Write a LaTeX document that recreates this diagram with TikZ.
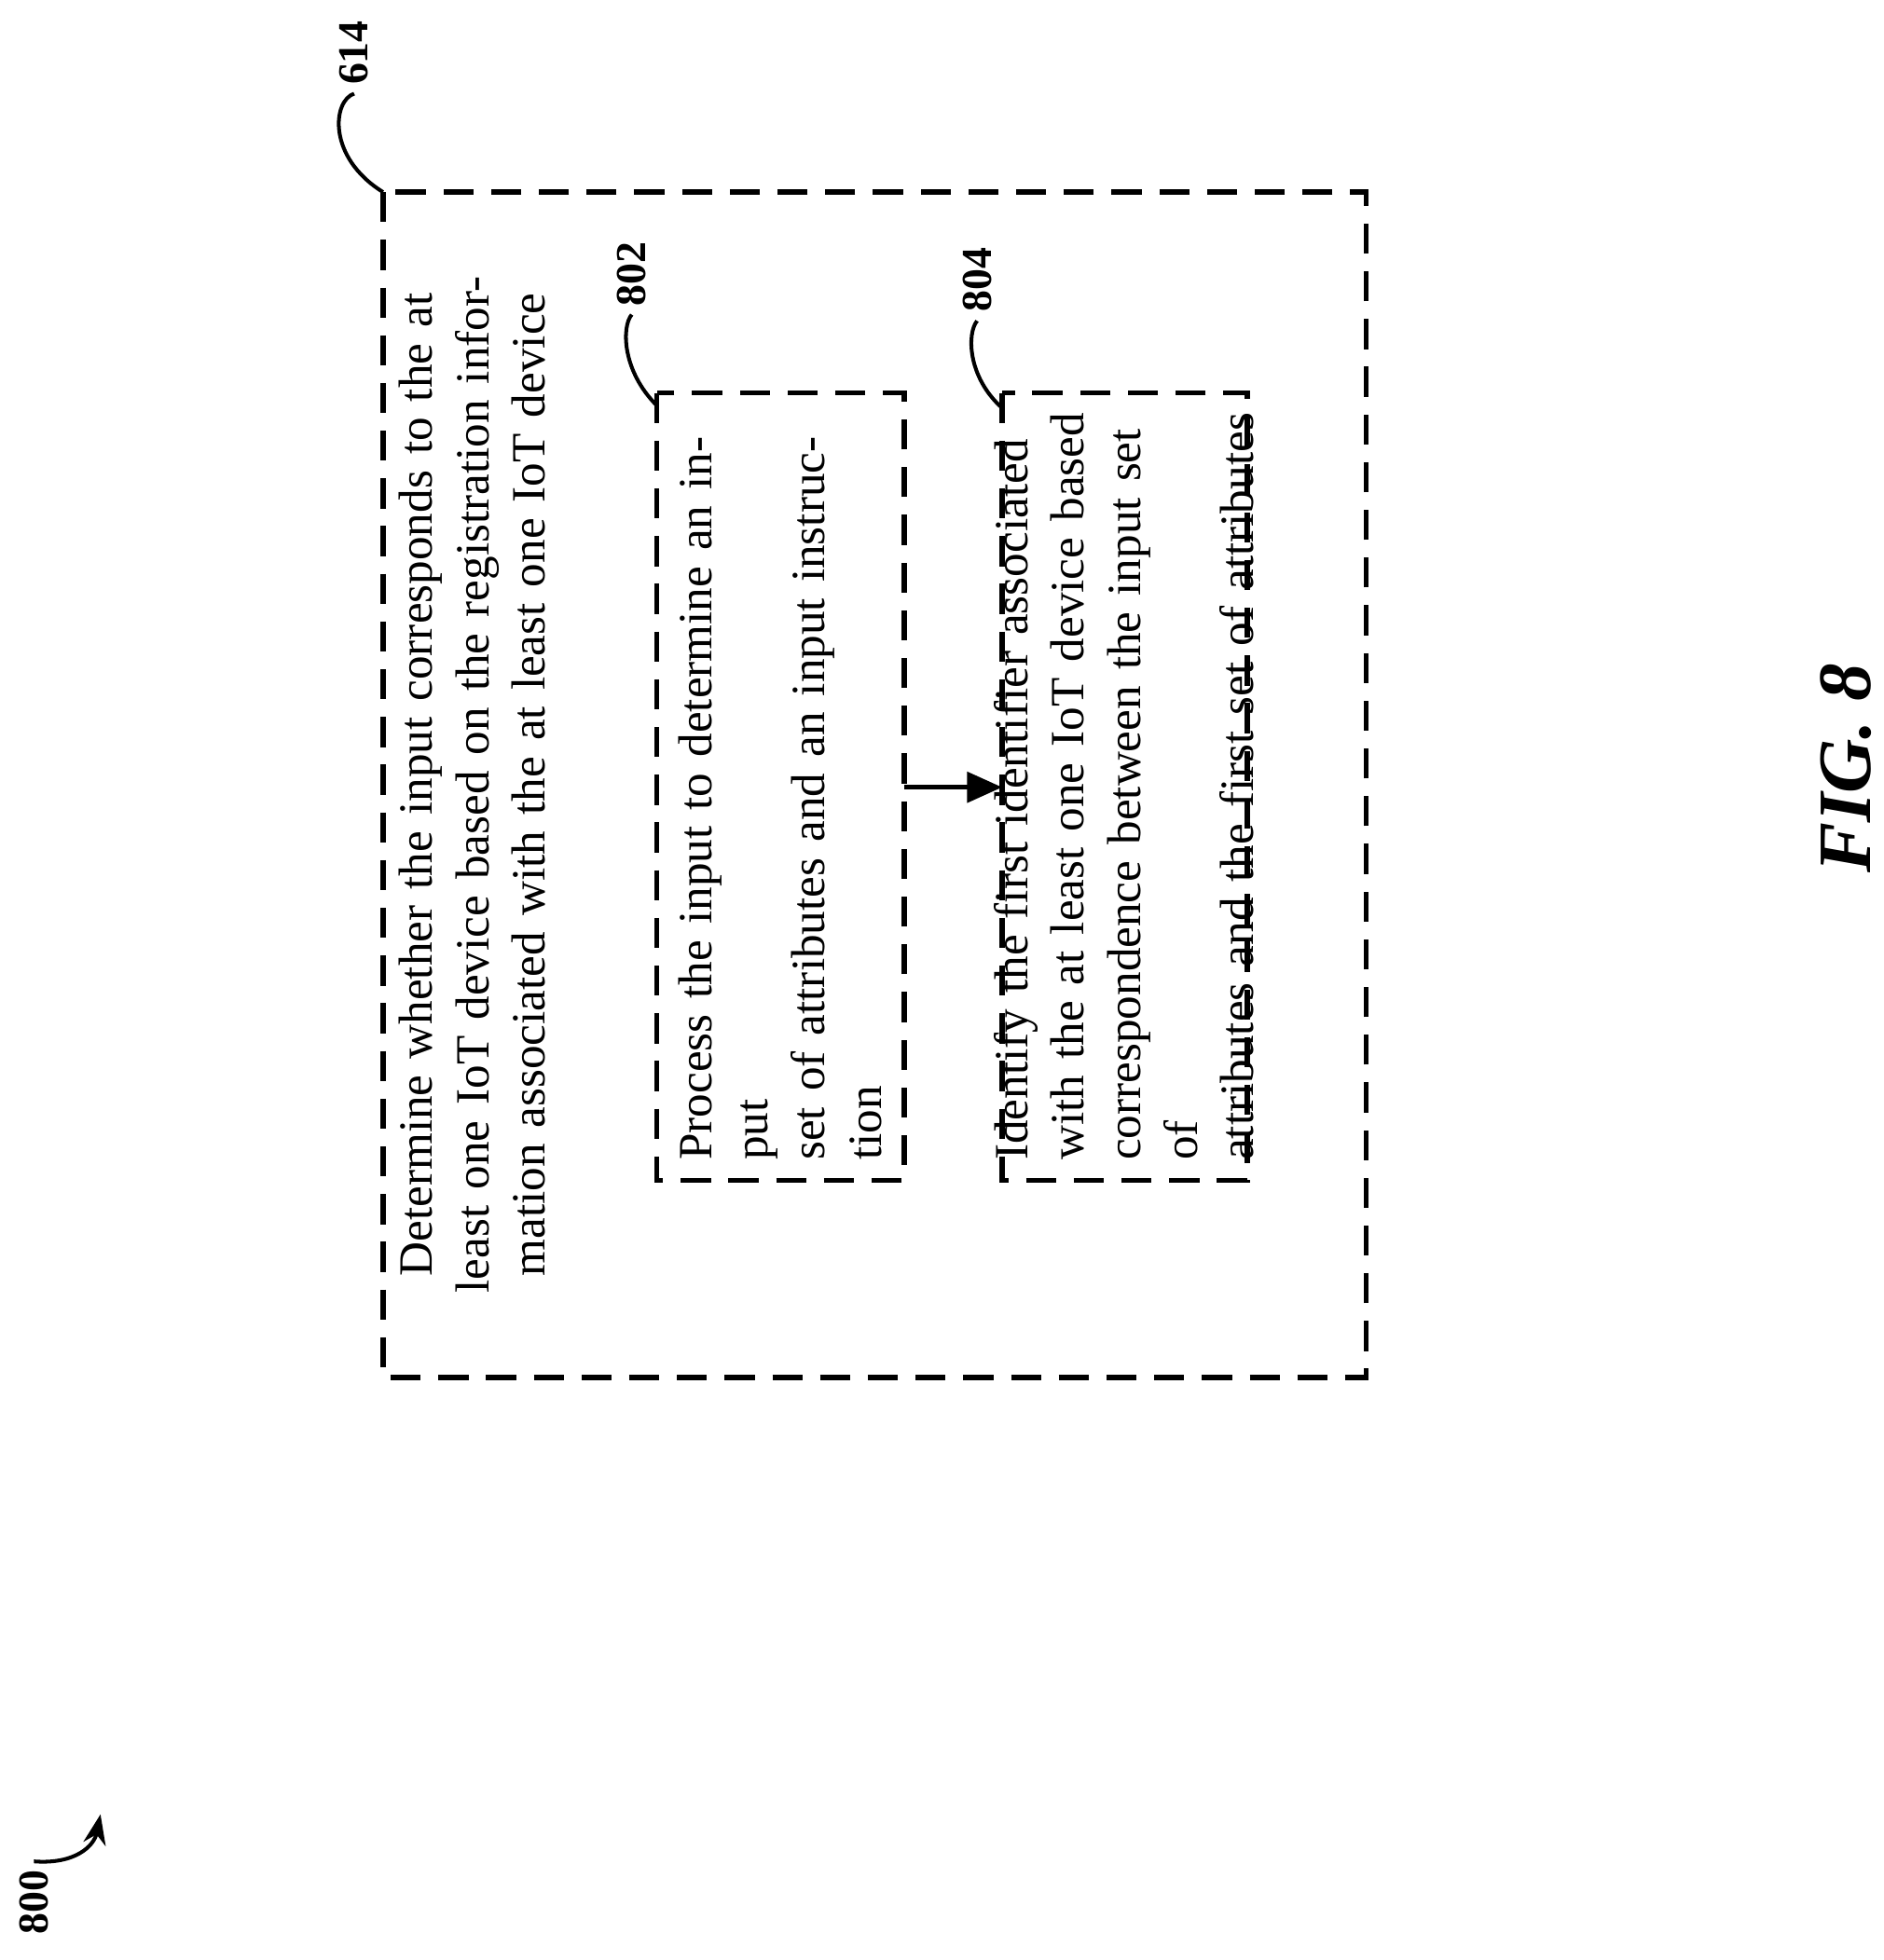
\documentclass[tikz,border=0pt]{standalone}
\usepackage{fontspec}
\setmainfont{Liberation Serif}
\usetikzlibrary{arrows.meta}
\begin{document}
\begin{tikzpicture}[x=0.5pt,y=-0.5pt,
  dbox/.style={draw,line width=2pt,dash pattern=on 12pt off 7pt},
  txt/.style={rotate=90,font=\fontsize{19}{22.5}\selectfont},
  lbl/.style={rotate=90,font=\fontsize{17}{20}\selectfont\bfseries},
  lead/.style={line width=1.5pt}]
\useasboundingbox (0,0) rectangle (1500,1561);
\draw[dbox] (305,153) rectangle (1088,1097);
\draw[dbox] (523,313) rectangle (720,940);
\draw[dbox] (798,313) rectangle (993,940);
\node[txt,align=center,text width=470pt] (t614) at (376,625) {Determine whether the input corresponds to the at least one IoT device based on the registration information associated with the at least one IoT device};
\node[txt,align=left,text width=300pt] (t802) at (621,624) {Process the input to determine an input\\set of attributes and an input instruction};
\node[txt,align=left,text width=300pt] (t804) at (895,624) {Identify the first identifier associated\\with the at least one IoT device based\\correspondence between the input set of\\attributes and the first set of attributes};
\coordinate (a1) at (720,627);
\coordinate (a2) at (798,627);
\draw[line width=2pt,-{Triangle[length=14pt,width=12pt]}] (a1) -- (a2);
\node[lbl] (l614) at (282,42) {614};
\node[lbl] (l802) at (503,218) {802};
\node[lbl] (l804) at (778,223) {804};
\node[lbl] (l800) at (27,1515) {800};
\coordinate (c614) at (305,153);
\coordinate (c802) at (523,323);
\coordinate (c804) at (798,325);
\draw[lead] (c614) .. controls (260,125) and (265,80) .. (l614.west);
\draw[lead] (c802) .. controls (495,295) and (495,260) .. (l802.west);
\draw[lead] (c804) .. controls (770,300) and (770,265) .. (l804.west);
\coordinate (a800) at (80,1445);
\draw[lead,-{Stealth[length=12pt,width=9pt]}] (l800.east) .. controls (60,1485) and (75,1470) .. (a800);
\node[rotate=90,font=\fontsize{30}{34}\selectfont\bfseries\itshape] (fig) at (1470,612) {FIG. 8};
\end{tikzpicture}
\end{document}
